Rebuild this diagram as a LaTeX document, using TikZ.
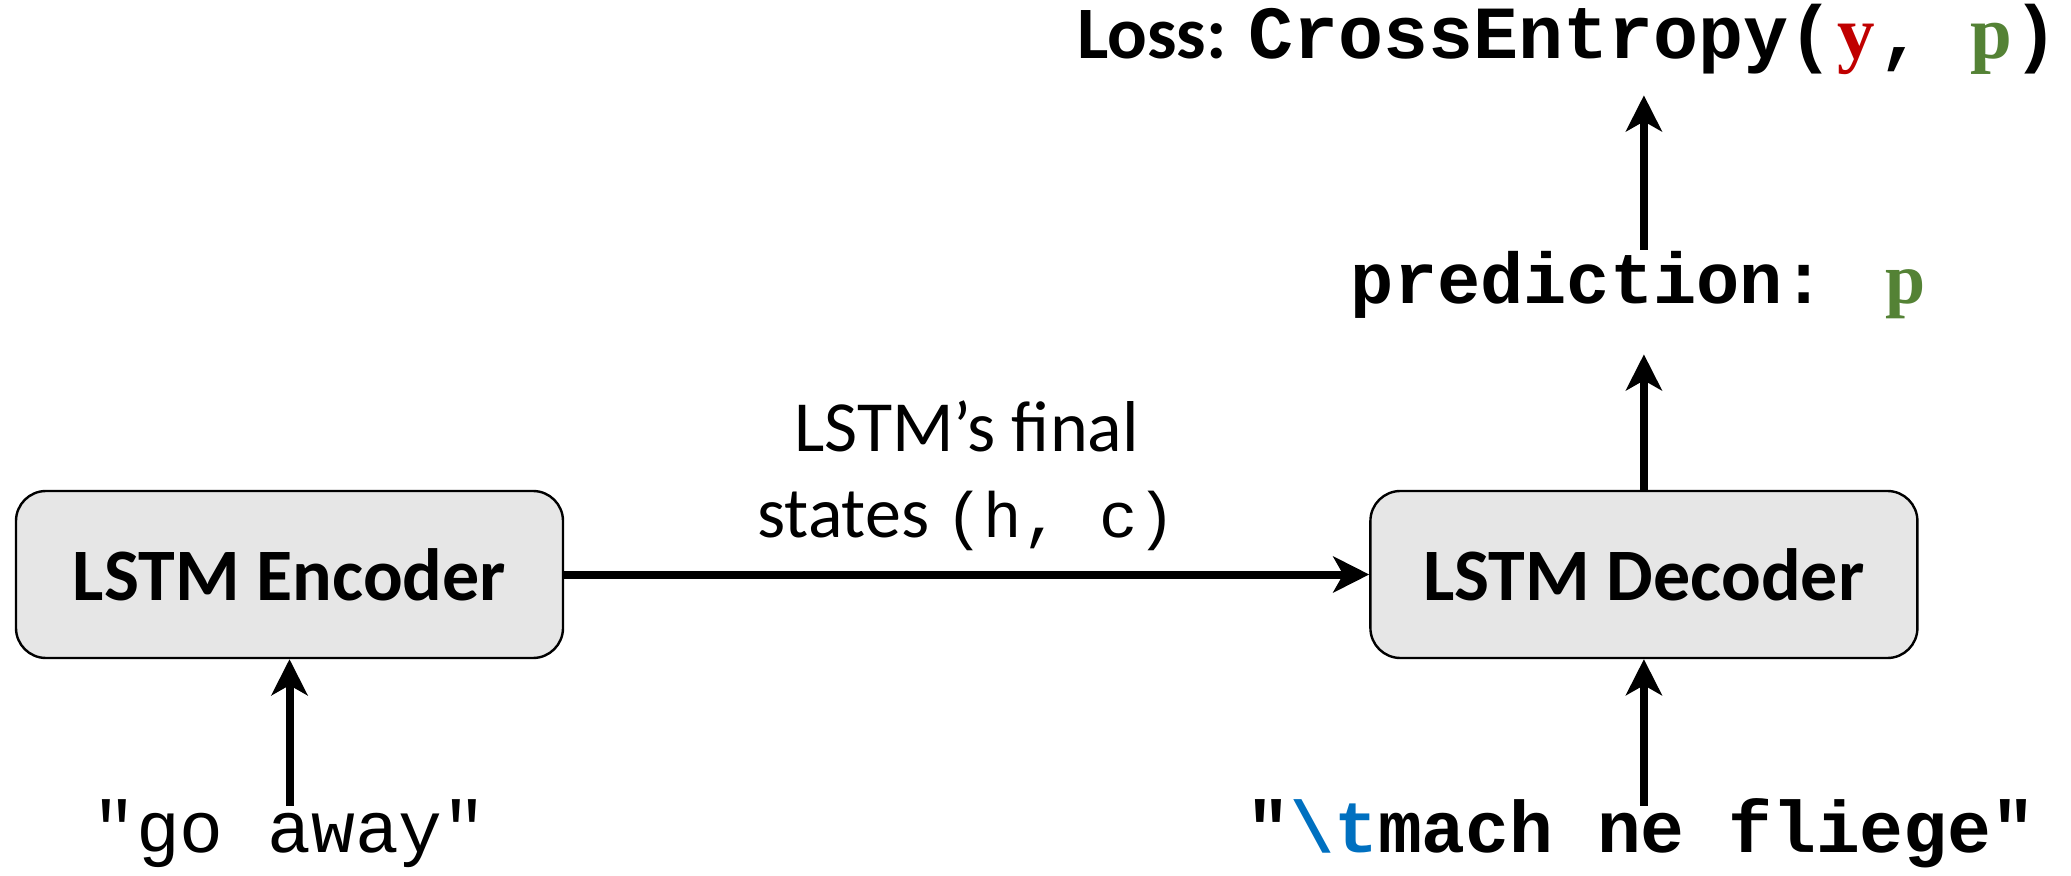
\documentclass[tikz,border=0pt]{standalone}
\usepackage{fontspec}
\setmainfont{Carlito}
\newfontfamily\codefont{Liberation Mono}
\newfontfamily\varfont{Liberation Serif}
\usepackage{tikz}
\usetikzlibrary{arrows.meta}
\usetikzlibrary{calc}
\usetikzlibrary{positioning}

\definecolor{boxgray}{RGB}{230,230,230}
\definecolor{lossred}{RGB}{192,0,0}
\definecolor{predgreen}{RGB}{84,130,53}
\definecolor{tokblue}{RGB}{0,112,192}

\newcommand{\yvar}{\makebox[0.6em]{\varfont\bfseries\color{lossred}y}}
\newcommand{\pvar}{\makebox[0.6em]{\varfont\bfseries\color{predgreen}p}}

\begin{document}
\begin{tikzpicture}[x=1pt, y=1pt,
        lstm/.style={draw, line width=1.2pt, fill=boxgray, rounded corners=15pt,
            minimum width=273.5pt, minimum height=83.5pt,
            font=\fontsize{37}{44}\selectfont\bfseries},
        txt/.style={inner sep=0pt, text height=23pt, text depth=9pt,
            font=\fontsize{36.5}{43}\selectfont\codefont},
        lbl/.style={inner sep=0pt, align=center, font=\fontsize{36}{43}\selectfont},
        flow/.style={->, line width=4pt},
        >={Stealth[length=18pt, width=18pt, inset=5pt]}]
        \useasboundingbox (0,0) rectangle (1035.5,-438);

        \node[lstm] (enc) at (144.75,-287.25) {LSTM Encoder};
        \node[lstm, right=402.5pt of enc] (dec) {LSTM Decoder};

        \node[txt, anchor=base] (src) at (144.75,-426) {"go away"};
        \node[txt, anchor=base, font=\fontsize{36.5}{43}\selectfont\codefont\bfseries] (tgt) at (820.5,-426)
            {"{\color{tokblue}\textbackslash t}mach ne fliege"};
        \node[txt, anchor=base, font=\fontsize{36}{43}\selectfont\codefont\bfseries] (pred) at (819.5,-152)
            {prediction: \pvar};
        \node[txt, anchor=base, font=\fontsize{37}{43}\selectfont\bfseries] (loss) at (784,-29.5)
            {Loss: {\fontsize{37.5}{43}\selectfont\codefont CrossEntropy(\yvar, \pvar)}};

        \draw[flow] (src) -- (src |- enc.south);
        \draw[flow] (dec.south |- tgt.north) -- (dec.south);
        \draw[flow] (enc) -- node[lbl, above=10pt]
            {LSTM’s final\\states {\fontsize{32}{43}\selectfont\codefont(h, c)}} (dec);
        \draw[flow, shorten >=16pt] (dec.north) -- (pred.south -| dec.north);
        \draw[flow, shorten <=4pt, shorten >=9pt] (pred.north -| dec.north) -- (loss.south -| dec.north);
    \end{tikzpicture}
\end{document}
